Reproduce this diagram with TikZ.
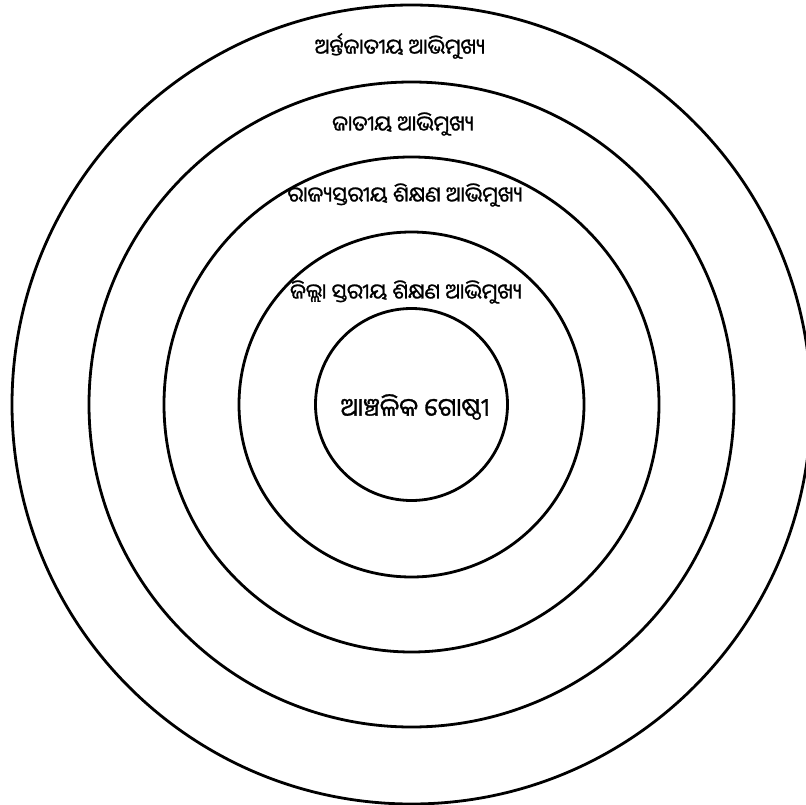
\documentclass[tikz,border=0pt]{standalone}
\usepackage{fontspec}
\newfontfamily\oriya[Script=Oriya,FakeBold=1.2]{Noto Sans Oriya UI}
\begin{document}
\begin{tikzpicture}[x=1pt,y=-1pt]
\tikzset{
  ring/.style={draw=black, line width=2.8pt, circle, inner sep=0pt, fill=none},
  lbl/.style={font=\oriya\fontsize{21}{24}\selectfont, inner sep=0pt, anchor=center},
  biglbl/.style={font=\oriya\fontsize{25}{28}\selectfont, inner sep=0pt, anchor=center}
}
\clip (0,0) rectangle (806,805);
\fill[white] (0,0) rectangle (806,805);
\coordinate (c) at (411.5,404.5);
\node[ring, minimum size=799pt] (r5) at (c) {};
\node[ring, minimum size=645pt] (r4) at (c) {};
\node[ring, minimum size=495pt] (r3) at (c) {};
\node[ring, minimum size=345pt] (r2) at (c) {};
\node[ring, minimum size=192pt] (r1) at (c) {};
\node[lbl] (t5) at (400,46) {ଅର୍ନ୍ତଜାତୀୟ ଆଭିମୁଖ୍ୟ};
\node[lbl] (t4) at (403,124) {ଜାତୀୟ ଆଭିମୁଖ୍ୟ};
\node[lbl] (t3) at (405,195) {ରାଜ୍ୟସ୍ତରୀୟ ଶିକ୍ଷଣ ଆଭିମୁଖ୍ୟ};
\node[lbl] (t2) at (406,292) {ଜିଲ୍ଲା ସ୍ତରୀୟ ଶିକ୍ଷଣ ଆଭିମୁଖ୍ୟ};
\node[biglbl] (t1) at (415,407) {ଆଞ୍ଚଳିକ ଗୋଷ୍ଠୀ};
\end{tikzpicture}
\end{document}
